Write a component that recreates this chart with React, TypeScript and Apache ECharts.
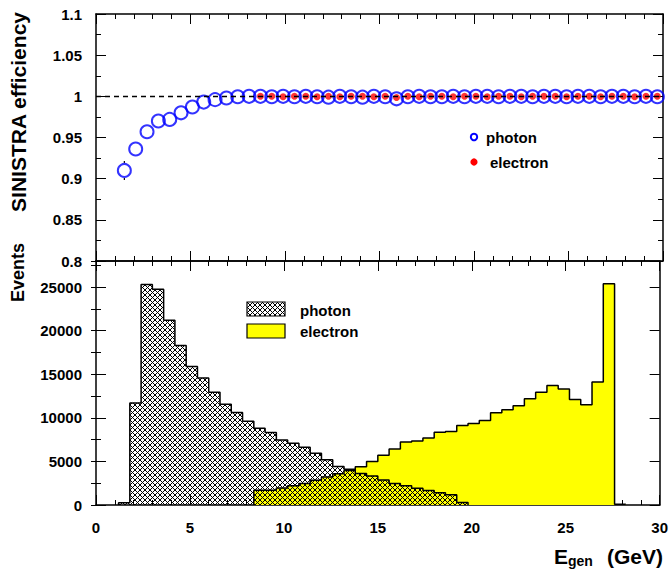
import React, { useEffect, useRef } from "react";
import * as echarts from "echarts";

// ---------- data ----------
const BIN_WIDTH = 0.6; // GeV
// efficiency points: bin centres = (k + 0.5) * BIN_WIDTH
const photonEffStartBin = 2;
const photonEff = [
  0.910, 0.936, 0.957, 0.970, 0.972, 0.980, 0.987, 0.993, 0.996, 0.998, // k=2..11
  0.9995, 1.0, 1.0, 0.9995, 1.0, 0.9995, 1.0, 0.9995, 0.999, 1.0, // k=12..21
  0.9995, 0.999, 1.0, 0.9995, 0.997, 0.9995, 1.0, 0.9995, 0.9995, 1.0, // k=22..31
  0.9995, 1.0, 1.0, 0.9995, 1.0, 1.0, 0.9995, 1.0, 1.0, 0.9995, // k=32..41
  1.0, 1.0, 0.9995, 1.0, 1.0, 0.9995, 1.0, 0.9995, // k=42..49
];
const photonEffErr = [
  0.0115, 0.006, 0.004, 0.003, 0.003, 0.002, 0.002, 0.002, 0.001, 0.001,
  0.001, 0.001, 0.001, 0.001, 0.001, 0.001, 0.001, 0.001, 0.001, 0.001,
  0.001, 0.001, 0.001, 0.001, 0.001, 0.001, 0.001, 0.001, 0.001, 0.001,
  0.001, 0.001, 0.001, 0.001, 0.001, 0.001, 0.001, 0.001, 0.001, 0.001,
  0.001, 0.001, 0.001, 0.001, 0.001, 0.001, 0.001, 0.001,
];
const electronEffStartBin = 14;
const electronEff = [
  1.0, 1.0, 0.9995, 1.0, 1.0, 0.9995, 1.0, 0.9995, 1.0, 1.0, // k=14..23
  0.9995, 1.0, 0.9985, 1.0, 0.9995, 1.0, 1.0, 0.9995, 1.0, 1.0, // k=24..33
  0.9995, 1.0, 1.0, 0.9995, 1.0, 1.0, 1.0, 0.9995, 1.0, 1.0, // k=34..43
  0.9995, 1.0, 1.0, 0.9995, 1.0, 1.0, // k=44..49
];

// histograms: bin k spans [k*BIN_WIDTH, (k+1)*BIN_WIDTH]
const photonHistStartBin = 2;
const photonCounts = [
  270, 11700, 25300, 24750, 21200, 18300, 15900, 14580, 12930, 11550, // k=2..11
  10620, 9620, 8820, 8320, 7450, 7100, 6640, 5950, 5180, 4410, // k=12..21
  4100, 3620, 3340, 2880, 2470, 2200, 1920, 1650, 1420, 1180, // k=22..31
  290, // k=32
];
const electronHistStartBin = 14;
const electronCounts = [
  1700, 1700, 1950, 2200, 2480, 2850, 3220, 3580, 3950, 4400, // k=14..23
  5000, 5700, 6440, 7230, 7350, 7700, 8340, 8440, 9110, 9360, // k=24..33
  9700, 10580, 10930, 11390, 12180, 12950, 13720, 13300, 12120, 11510, // k=34..43
  14120, 25400, 80, // k=44..46
];

const xTickLabels = ["0", "5", "10", "15", "20", "25", "30"];

// ---------- helpers ----------
const FONT = "Liberation Sans, Arial, Helvetica, sans-serif";

function stepPoints(start: number, counts: number[]) {
  const pts: number[][] = [[start * BIN_WIDTH, 0]];
  counts.forEach((c, i) => pts.push([(start + i) * BIN_WIDTH, c]));
  pts.push([(start + counts.length) * BIN_WIDTH, counts[counts.length - 1]]);
  pts.push([(start + counts.length) * BIN_WIDTH, 0]);
  return pts;
}

const hatchSvg =
  "<svg xmlns='http://www.w3.org/2000/svg' width='5' height='5'>" +
  "<path d='M-1,-1 L6,6 M-1,6 L6,-1' stroke='black' stroke-width='1' fill='none'/></svg>";
const hatchUrl = "data:image/svg+xml;utf8," + encodeURIComponent(hatchSvg);
const hatchPattern: any = { image: hatchUrl, repeat: "repeat", imageWidth: 5, imageHeight: 5 };

export default function App() {
  const ref = useRef<HTMLDivElement>(null);
  useEffect(() => {
    if (!ref.current) return;
    const chart = echarts.init(ref.current, null, { renderer: "svg" });

    const axisLine = { show: true, onZero: false, lineStyle: { color: "#000", width: 1.5 } };
    const tickStyle = { color: "#000", width: 1 };
    const labelStyle = { color: "#000", fontFamily: FONT, fontWeight: "bold" as const, fontSize: 15 };

    const xAxisFor = (gridIndex: number, position: string, showLabel: boolean) => ({
      type: "value",
      gridIndex,
      position,
      min: 0,
      max: 30,
      interval: 5,
      axisLine,
      axisTick: { show: true, inside: true, length: 10, lineStyle: tickStyle },
      minorTick: { show: true, splitNumber: 5, length: 5, lineStyle: tickStyle },
      splitLine: { show: false },
      minorSplitLine: { show: false },
      axisLabel: {
        show: showLabel,
        margin: 15,
        ...labelStyle,
        formatter: (v: number) => xTickLabels[Math.round(v / 5)] ?? "",
      },
    });

    const effPhoton = photonEff.map((v, i) => [(photonEffStartBin + i + 0.5) * BIN_WIDTH, v, photonEffErr[i]]);
    const effElectron = electronEff.map((v, i) => [(electronEffStartBin + i + 0.5) * BIN_WIDTH, v]);

    const option: any = {
      animation: false,
      backgroundColor: "#fff",
      grid: [
        { left: 96, right: 8, top: 14, height: 247 },
        { left: 96, right: 8, top: 261, height: 244 },
      ],
      xAxis: [xAxisFor(0, "bottom", false), xAxisFor(0, "top", false), xAxisFor(1, "bottom", true), xAxisFor(1, "top", false)],
      yAxis: [
        {
          type: "value", gridIndex: 0, position: "left", min: 0.8, max: 1.1, interval: 0.05,
          axisLine, axisTick: { show: true, inside: true, length: 10, lineStyle: tickStyle },
          minorTick: { show: true, splitNumber: 2, length: 5, lineStyle: tickStyle },
          splitLine: { show: false }, minorSplitLine: { show: false },
          axisLabel: { show: true, margin: 14, ...labelStyle },
        },
        {
          type: "value", gridIndex: 0, position: "right", min: 0.8, max: 1.1, interval: 0.05,
          axisLine, axisTick: { show: true, inside: true, length: 10, lineStyle: tickStyle },
          minorTick: { show: true, splitNumber: 2, length: 5, lineStyle: tickStyle },
          splitLine: { show: false }, axisLabel: { show: false },
        },
        {
          type: "value", gridIndex: 1, position: "left", min: 0, max: 28000, interval: 5000,
          axisLine, axisTick: { show: true, inside: true, length: 10, lineStyle: tickStyle },
          splitLine: { show: false },
          axisLabel: { show: true, margin: 14, showMaxLabel: false, ...labelStyle, formatter: (v: number) => String(v) },
        },
        {
          type: "value", gridIndex: 1, position: "right", min: 0, max: 28000, interval: 5000,
          axisLine, axisTick: { show: true, inside: true, length: 10, lineStyle: tickStyle },
          splitLine: { show: false }, axisLabel: { show: false },
        },
        {
          type: "value", gridIndex: 1, position: "left", min: 0, max: 28000, interval: 2500,
          axisLine: { show: false }, axisTick: { show: true, inside: true, length: 5, lineStyle: tickStyle },
          splitLine: { show: false }, axisLabel: { show: false },
        },
        {
          type: "value", gridIndex: 1, position: "right", min: 0, max: 28000, interval: 2500,
          axisLine: { show: false }, axisTick: { show: true, inside: true, length: 5, lineStyle: tickStyle },
          splitLine: { show: false }, axisLabel: { show: false },
        },
      ],
      series: [
        {
          name: "photon",
          type: "scatter",
          xAxisIndex: 0,
          yAxisIndex: 0,
          symbol: "circle",
          symbolSize: 13,
          itemStyle: { color: "rgba(0,0,0,0)", borderColor: "#0000ff", borderWidth: 2 },
          data: effPhoton,
          z: 3,
          markLine: {
            silent: true,
            symbol: ["none", "none"],
            label: { show: false },
            lineStyle: { color: "#000", type: [5, 4], width: 1.3 },
            data: [{ yAxis: 1 }],
          },
        },
        {
          name: "photonErr",
          type: "custom",
          xAxisIndex: 0,
          yAxisIndex: 0,
          data: effPhoton,
          z: 3,
          renderItem: (params: any, api: any) => {
            const x = api.value(0), y = api.value(1), e = api.value(2);
            const c = api.coord([x, y]);
            const t = api.coord([x, y + e]);
            const b = api.coord([x, y - e]);
            const r = 7.5;
            const children: any[] = [];
            if (c[1] - t[1] > r) children.push({ type: "line", shape: { x1: c[0], y1: t[1], x2: c[0], y2: c[1] - r }, style: { stroke: "#000", lineWidth: 1.2 } });
            if (b[1] - c[1] > r) children.push({ type: "line", shape: { x1: c[0], y1: c[1] + r, x2: c[0], y2: b[1] }, style: { stroke: "#000", lineWidth: 1.2 } });
            return { type: "group", children };
          },
        },
        {
          name: "electron",
          type: "scatter",
          xAxisIndex: 0,
          yAxisIndex: 0,
          symbol: "circle",
          symbolSize: 7,
          itemStyle: { color: "#ff0000" },
          data: effElectron,
          z: 4,
        },
        {
          name: "electronHist",
          type: "line",
          xAxisIndex: 2,
          yAxisIndex: 2,
          step: "end",
          symbol: "none",
          data: stepPoints(electronHistStartBin, electronCounts),
          lineStyle: { color: "#000", width: 1.5 },
          areaStyle: { color: "#ffff00", opacity: 1 },
          z: 2,
        },
        {
          name: "photonHist",
          type: "line",
          xAxisIndex: 2,
          yAxisIndex: 2,
          step: "end",
          symbol: "none",
          data: stepPoints(photonHistStartBin, photonCounts),
          lineStyle: { color: "#000", width: 1.5 },
          areaStyle: { color: hatchPattern, opacity: 1 },
          z: 3,
        },
      ],
      graphic: [
        // top legend
        { type: "circle", shape: { cx: 474, cy: 137, r: 3.2 }, style: { fill: "none", stroke: "#0000ff", lineWidth: 2 } },
        { type: "text", x: 486, y: 137, style: { text: "photon", font: `bold 15px ${FONT}`, fill: "#000", verticalAlign: "middle" } },
        { type: "circle", shape: { cx: 474, cy: 162, r: 3.6 }, style: { fill: "#ff0000" } },
        { type: "text", x: 490, y: 162, style: { text: "electron", font: `bold 15px ${FONT}`, fill: "#000", verticalAlign: "middle" } },
        // bottom legend
        { type: "rect", shape: { x: 247, y: 302, width: 38, height: 14 }, style: { fill: hatchPattern, stroke: "#000", lineWidth: 1.2 } },
        { type: "text", x: 300, y: 310, style: { text: "photon", font: `bold 15px ${FONT}`, fill: "#000", verticalAlign: "middle" } },
        { type: "rect", shape: { x: 247, y: 324, width: 38, height: 14 }, style: { fill: "#ffff00", stroke: "#000", lineWidth: 1.2 } },
        { type: "text", x: 300, y: 331, style: { text: "electron", font: `bold 15px ${FONT}`, fill: "#000", verticalAlign: "middle" } },
        // axis titles
        { type: "text", x: 18, y: 12, rotation: Math.PI / 2, style: { text: "SINISTRA efficiency", font: `bold 21px ${FONT}`, fill: "#000", align: "right", verticalAlign: "middle" } },
        { type: "text", x: 18, y: 243, rotation: Math.PI / 2, style: { text: "Events", font: `bold 18px ${FONT}`, fill: "#000", align: "right", verticalAlign: "middle" } },
        { type: "text", x: 663, y: 556, style: { text: "(GeV)", font: `bold 21px ${FONT}`, fill: "#000", align: "right", verticalAlign: "middle" } },
        { type: "text", x: 568, y: 561, style: { text: "gen", font: `bold 14px ${FONT}`, fill: "#000", align: "left", verticalAlign: "middle" } },
        { type: "text", x: 554, y: 556, style: { text: "E", font: `bold 21px ${FONT}`, fill: "#000", align: "left", verticalAlign: "middle" } },
      ],
    };
    chart.setOption(option);
    return () => chart.dispose();
  }, []);
  return <div ref={ref} style={{ position: "absolute", left: 0, top: 0, width: 671, height: 570 }} />;
}
